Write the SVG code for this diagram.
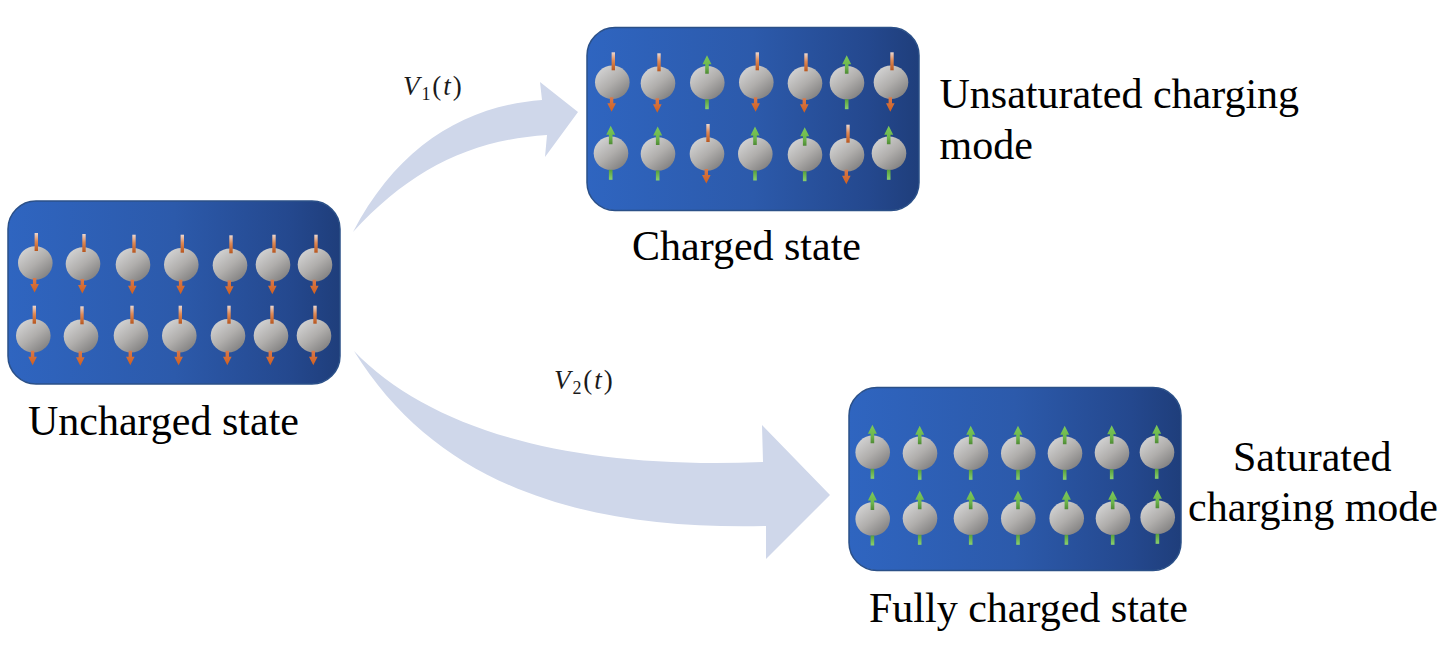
<svg xmlns="http://www.w3.org/2000/svg" width="1440" height="647" viewBox="0 0 1440 647">
<style>
.panel{fill:url(#panelFill);stroke:#2b5088;stroke-width:1.5}
.label{font-family:"Liberation Serif","Times New Roman",serif;font-size:42px;fill:#000}
.math{font-family:"Liberation Serif","Times New Roman",serif;font-size:27px;fill:#1a1a1a;letter-spacing:1.9px}
.math .v{font-style:italic}
.math .s{font-size:18px}
.flow{fill:#cfd7ea;stroke:none}
</style>
<defs>
<linearGradient id="panelFill" x1="0" y1="0" x2="1" y2="0">
<stop offset="0" stop-color="#2f65c0"/>
<stop offset="0.5" stop-color="#2c5aab"/>
<stop offset="0.85" stop-color="#24488e"/>
<stop offset="1" stop-color="#1f3e7b"/>
</linearGradient>
<linearGradient id="ball" x1="0.15" y1="0.1" x2="0.85" y2="0.95">
<stop offset="0" stop-color="#d2d2d2"/>
<stop offset="0.5" stop-color="#b0aeac"/>
<stop offset="1" stop-color="#7f7e7e"/>
</linearGradient>
<linearGradient id="orangeBar" x1="0" y1="0" x2="0" y2="1">
<stop offset="0" stop-color="#ecd8d0"/>
<stop offset="0.45" stop-color="#e08a55"/>
<stop offset="1" stop-color="#b8561e"/>
</linearGradient>
<linearGradient id="orangeHead" x1="0" y1="0" x2="0" y2="1">
<stop offset="0" stop-color="#d9794a"/>
<stop offset="1" stop-color="#d0601f"/>
</linearGradient>
<linearGradient id="greenBar" x1="0" y1="0" x2="0" y2="1">
<stop offset="0" stop-color="#7cc85a"/>
<stop offset="0.6" stop-color="#6db84c"/>
<stop offset="1" stop-color="#4f8a35"/>
</linearGradient>
<linearGradient id="greenTail" x1="0" y1="0" x2="0" y2="1">
<stop offset="0" stop-color="#58a03c"/>
<stop offset="1" stop-color="#8ad06e"/>
</linearGradient>
<ellipse id="sphere" rx="17.3" ry="16.8" fill="url(#ball)"/>
<g id="down">
<use href="#sphere"/>
<rect x="-0.7" y="-30" width="3.4" height="18" fill="url(#orangeBar)"/>
<path d="M-2.4,15H1V21H3.6L-0.7,29.5L-5,21H-2.4Z" fill="url(#orangeHead)"/>
</g>
<g id="up">
<use href="#sphere"/>
<path d="M-0.3,-27.5L4.2,-18.5H1.5V-9H-2.1V-18.5H-4.8Z" fill="url(#greenBar)"/>
<rect x="-2.1" y="16.5" width="3.6" height="10" fill="url(#greenTail)"/>
</g>
</defs>
<rect width="1440" height="647" fill="#fff"/>

<g id="connectors">
<path class="flow" d="M353,232C398,146 465,106 542,100L540,82L578,112L545,157L547,135C470,140 410,170 353,232Z"/>
<path class="flow" d="M354,351C430,430 570,470 763,462L762,425L830,495L766,559L766,526C590,530 440,490 354,351Z"/>
</g>
<text class="math" x="403" y="95"><tspan class="v">V</tspan><tspan class="s" dy="5">1</tspan><tspan dy="-5">(</tspan><tspan class="v">t</tspan>)</text>
<text class="math" x="554" y="389"><tspan class="v">V</tspan><tspan class="s" dy="5">2</tspan><tspan dy="-5">(</tspan><tspan class="v">t</tspan>)</text>

<g id="uncharged">
<rect class="panel" x="8" y="201" width="332" height="183" rx="28"/>
<use href="#down" x="35.3" y="263"/><use href="#down" x="83" y="264"/><use href="#down" x="133" y="264.7"/><use href="#down" x="181.3" y="264.7"/><use href="#down" x="230" y="265.3"/><use href="#down" x="273" y="264.7"/><use href="#down" x="315" y="264.7"/>
<use href="#down" x="33.3" y="335.7"/><use href="#down" x="81" y="336.3"/><use href="#down" x="131" y="335.7"/><use href="#down" x="179.3" y="335.7"/><use href="#down" x="228" y="335.7"/><use href="#down" x="271" y="335.7"/><use href="#down" x="314" y="335.7"/>
<text class="label" x="28" y="435">Uncharged state</text>
</g>

<g id="charged">
<rect class="panel" x="587" y="27.5" width="332" height="183" rx="28"/>
<use href="#down" x="612.3" y="82.3"/><use href="#down" x="658" y="83.3"/><use href="#up" x="707.3" y="82.7"/><use href="#down" x="756.3" y="82.3"/><use href="#down" x="805" y="83.3"/><use href="#up" x="847" y="82.7"/><use href="#down" x="891" y="82.3"/>
<use href="#up" x="611" y="153.3"/><use href="#up" x="658" y="154"/><use href="#down" x="707" y="154"/><use href="#up" x="755.3" y="154"/><use href="#up" x="805" y="154.7"/><use href="#down" x="847" y="154.7"/><use href="#up" x="889" y="153.3"/>
<text class="label" x="632" y="260">Charged state</text>
<text class="label" x="939.5" y="108">Unsaturated charging</text>
<text class="label" x="939.5" y="159">mode</text>
</g>

<g id="fully-charged">
<rect class="panel" x="849" y="387.5" width="332" height="183" rx="28"/>
<use href="#up" x="872.7" y="452.3"/><use href="#up" x="920" y="453.3"/><use href="#up" x="971" y="453.3"/><use href="#up" x="1018.3" y="453.3"/><use href="#up" x="1065" y="453.3"/><use href="#up" x="1112" y="452.7"/><use href="#up" x="1157" y="452.3"/>
<use href="#up" x="872.7" y="519"/><use href="#up" x="920" y="518.3"/><use href="#up" x="971" y="518.3"/><use href="#up" x="1018.3" y="518.3"/><use href="#up" x="1066.7" y="518.3"/><use href="#up" x="1113" y="518.3"/><use href="#up" x="1157.7" y="517.3"/>
<text class="label" x="869" y="622">Fully charged state</text>
<text class="label" x="1233" y="471">Saturated</text>
<text class="label" x="1188" y="521">charging mode</text>
</g>
</svg>
